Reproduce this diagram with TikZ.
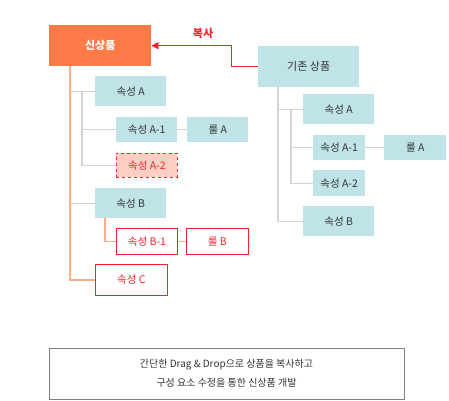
\documentclass[tikz,border=0pt]{standalone}
\usepackage{fontspec}
\setmainfont{Noto Sans CJK KR}
\usetikzlibrary{arrows.meta,positioning}
\definecolor{ink}{HTML}{333333}
\definecolor{accent}{HTML}{FF7B48}
\definecolor{mint}{HTML}{BFE3E7}
\definecolor{alert}{HTML}{F2232B}
\definecolor{blush}{HTML}{FDCFC3}
\definecolor{peach}{HTML}{FFAB8C}
\definecolor{rule}{HTML}{D4D4D4}
\definecolor{frame}{HTML}{7F7F7F}
\tikzset{
  dims/.style 2 args={minimum width=#1pt,minimum height=#2pt},
  item/.style={fill=mint,anchor=north west,inner sep=0pt,font=\fontsize{10.5}{12}\selectfont,text=ink},
  root/.style={item,fill=accent,text=white,font=\fontsize{11}{12}\selectfont\bfseries},
  added/.style={item,draw=alert,fill=white,text=alert,line width=0.8pt},
  draft/.style={item,draw=alert,fill=blush,text=alert,dashed,line width=0.8pt},
  graylink/.style={draw=rule,line width=1.2pt},
  peachlink/.style={draw=peach,line width=1.2pt},
  copyflow/.style={-{Triangle[length=7pt,width=7pt]},line width=0.8pt,draw=alert},
  note/.style={draw=frame,line width=0.7pt,align=center,inner sep=0pt,font=\fontsize{10}{19}\selectfont,text=ink}
}

\begin{document}
\begin{tikzpicture}[x=1pt,y=-1pt]
  \useasboundingbox (0,0) rectangle (449,400);
  % new product tree
  \node[root,dims={102}{41}] (new) at (49,25) {신상품};
  \node[item,dims={71}{30}] (na) at (95,76) {속성 A};
  \node[item,dims={61}{25}] (na1) at (116,117) {속성 A-1};
  \node[item,dims={61}{25}] (nra) at (187,117) {룰 A};
  \node[draft,dims={61}{24}] (na2) at (116,153) {속성 A-2};
  \node[item,dims={71}{30}] (nb) at (95,188) {속성 B};
  \node[added,dims={61}{26}] (nb1) at (116,228) {속성 B-1};
  \node[added,dims={62}{26}] (nrb) at (186,228) {룰 B};
  \node[added,dims={72}{31}] (nc) at (95,264) {속성 C};
  \coordinate (lt) at (70,66);
  \coordinate (la) at (82,91);
  \coordinate (lb) at (105,218);
  \draw[graylink] (lt |- na.west) -- (na.west);
  \draw[graylink] (lt |- nb.west) -- (nb.west);
  \draw[graylink] (la) |- (na2.west);
  \draw[graylink] (la |- na1.west) -- (na1.west);
  \draw[graylink] (na1) -- (nra);
  \draw[peachlink] (lt) |- (nc.west);
  \draw[peachlink] (lb) |- (nb1.west);
  \draw[peachlink] (nb1) -- (nrb);
  % existing product tree
  \node[item,dims={101}{41},font=\fontsize{11}{12}\selectfont] (old) at (258,46) {기존 상품};
  \node[item,dims={71}{30}] (oa) at (303,94) {속성 A};
  \node[item,dims={52}{25}] (oa1) at (313,135) {속성 A-1};
  \node[item,dims={62}{25}] (ora) at (384,135) {룰 A};
  \node[item,dims={52}{26}] (oa2) at (313,170) {속성 A-2};
  \node[item,dims={71}{30}] (ob) at (303,206) {속성 B};
  \coordinate (rt) at (278,87);
  \coordinate (ra) at (291,109);
  \draw[graylink] (rt) |- (ob.west);
  \draw[graylink] (rt |- oa.west) -- (oa.west);
  \draw[graylink] (ra) |- (oa2.west);
  \draw[graylink] (ra |- oa1.west) -- (oa1.west);
  \draw[graylink] (oa1) -- (ora);
  % copy
  \draw[copyflow] (old.west) -- ++(-27,0) |- (new.east);
  \node[text=alert,font=\fontsize{11}{12}\selectfont\bfseries] (copytxt) at (203,33) {복사};
  % caption
  \node[note,dims={355}{51}] (summary) at (226.5,373.5) {간단한 Drag \& Drop으로 상품을 복사하고\\구성 요소 수정을 통한 신상품 개발};
\end{tikzpicture}
\end{document}
